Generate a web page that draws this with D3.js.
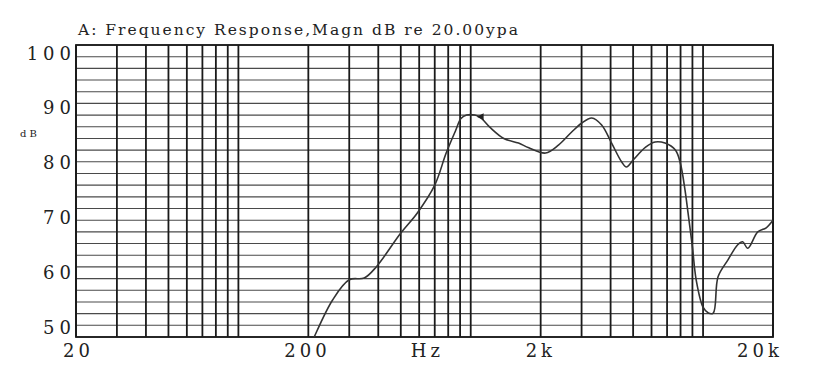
<!DOCTYPE html>
<html>
<head>
<meta charset="utf-8">
<script src="https://cdn.jsdelivr.net/npm/d3@7"></script>
<style>
  body { margin: 0; background: #fff; }
  text { font-family: "DejaVu Serif", "Liberation Serif", serif; fill: #222; }
</style>
</head>
<body>
<svg id="chart" width="825" height="389"></svg>
<script>
// measured response, frequency in Hz and level in dB
var freqs = [200, 212, 254, 300, 348, 392, 500, 588, 700, 784, 862, 908, 960, 1040, 1100,
  1218, 1388, 1606, 1778, 2100, 2392, 2720, 3000, 3320, 3660, 4040, 4460, 4680, 5000,
  5660, 6220, 6860, 7600, 7980, 8360, 8620, 9000, 9340, 10000, 10540, 11060, 11600,
  12800, 14100, 14800, 15570, 17200, 18700, 20000];
var levels = [47.6, 50, 56.3, 59.8, 60.1, 62, 67.8, 71.2, 76, 81.5, 85.4, 87.4, 88, 88, 87.6,
  85.8, 84, 83.2, 82.4, 81.5, 82.9, 85.1, 86.6, 87.5, 86.3, 83.2, 80, 79.1, 80.3,
  82.5, 83.4, 83.2, 82, 79.8, 75.2, 71.2, 65.4, 59.8, 55.1, 54.1, 54.1, 60.3,
  63.2, 65.8, 66.3, 65.2, 68, 68.7, 70];
var markerFreq = 1060, markerLevel = 87.7;

var gridFreqs = [20, 30, 40, 50, 60, 70, 80, 90, 100, 200, 300, 400, 500, 600, 700, 800, 900,
  1000, 2000, 3000, 4000, 5000, 6000, 7000, 8000, 9000, 10000, 20000];
var gridLevels = d3.range(50, 101, 2);
var yTickLabels = [100, 90, 80, 70, 60, 50];
var xTickLabels = [{ f: 20, t: '20' }, { f: 200, t: '200' }, { f: 640, t: 'Hz' },
  { f: 2000, t: '2k' }, { f: 20000, t: '20k' }];
var title = 'A: Frequency Response,Magn dB re 20.00ypa';

var svg = d3.select('#chart');
var plotL = 76, plotR = 773, plotT = 45, plotB = 337;

var x = d3.scaleLog().domain([20, 20000]).range([plotL, plotR]);
var y = d3.scaleLinear().domain([50, 100]).range([plotB, plotT]);
// the printed dB numbers sit on their own, slightly tighter spacing
var yLabel = d3.scaleLinear().domain([50, 100]).range([327, 53]);

var grid = svg.append('g');
grid.selectAll('line.h')
    .data(gridLevels)
  .enter().append('line')
    .attr('class', 'h')
    .attr('x1', plotL).attr('x2', plotR)
    .attr('y1', function (d) { return y(d); })
    .attr('y2', function (d) { return y(d); })
    .attr('stroke', '#4a4a4a')
    .attr('stroke-width', 1.1);

grid.selectAll('line.v')
    .data(gridFreqs)
  .enter().append('line')
    .attr('class', 'v')
    .attr('x1', function (d) { return x(d); })
    .attr('x2', function (d) { return x(d); })
    .attr('y1', plotT).attr('y2', plotB)
    .attr('stroke', '#1a1a1a')
    .attr('stroke-width', 1.8);

svg.append('rect')
    .attr('x', plotL).attr('y', plotT)
    .attr('width', plotR - plotL).attr('height', plotB - plotT)
    .attr('fill', 'none')
    .attr('stroke', '#1a1a1a')
    .attr('stroke-width', 1.8);

svg.append('defs').append('clipPath').attr('id', 'plot')
  .append('rect')
    .attr('x', plotL).attr('y', plotT)
    .attr('width', plotR - plotL).attr('height', plotB - plotT);

var line = d3.line()
    .x(function (d, i) { return x(freqs[i]); })
    .y(function (d) { return y(d); })
    .curve(d3.curveCatmullRom);

svg.append('path')
    .datum(levels)
    .attr('clip-path', 'url(#plot)')
    .attr('d', line)
    .attr('fill', 'none')
    .attr('stroke', '#333')
    .attr('stroke-width', 1.6);

// cursor marker
var mx = x(markerFreq), my = y(markerLevel);
svg.append('path')
    .attr('d', 'M' + mx + ',' + my + 'l7,-3.5v7z')
    .attr('fill', '#222');

svg.append('text')
    .attr('x', 78).attr('y', 35)
    .attr('font-size', 15.5)
    .attr('textLength', 440)
    .attr('lengthAdjust', 'spacing')
    .text(title);

svg.selectAll('text.yl')
    .data(yTickLabels)
  .enter().append('text')
    .attr('class', 'yl')
    .attr('x', 76)
    .attr('y', function (d) { return yLabel(d) + 6.5; })
    .attr('text-anchor', 'end')
    .attr('font-size', 18)
    .attr('letter-spacing', 5)
    .text(function (d) { return d; });

svg.append('text')
    .attr('x', 20).attr('y', 137)
    .attr('font-size', 10)
    .attr('letter-spacing', 3)
    .text('dB');

svg.selectAll('text.xl')
    .data(xTickLabels)
  .enter().append('text')
    .attr('class', 'xl')
    .attr('x', function (d) {
      if (d.f === 20) return x(d.f) - 13;
      if (d.f === 20000) return x(d.f) - 36;
      return x(d.f) - (d.t === '200' ? 24 : 15);
    })
    .attr('y', 357)
    .attr('font-size', 18)
    .attr('letter-spacing', 4)
    .text(function (d) { return d.t; });
</script>
</body>
</html>
